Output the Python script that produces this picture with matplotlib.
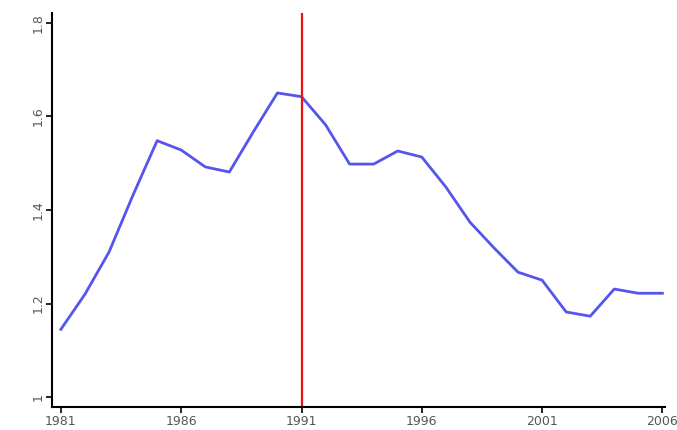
import matplotlib
matplotlib.use('Agg')
import matplotlib.pyplot as plt

years = list(range(1981, 2007))
values = [1.145, 1.220, 1.310, 1.432, 1.548, 1.528, 1.492, 1.481, 1.567, 1.650,
          1.642, 1.582, 1.498, 1.498, 1.526, 1.513, 1.449, 1.374, 1.319, 1.267,
          1.250, 1.182, 1.173, 1.231, 1.222, 1.222]
x_ticks = [1981, 1986, 1991, 1996, 2001, 2006]
y_ticks = [1.0, 1.2, 1.4, 1.6, 1.8]
y_labels = ['1', '1.2', '1.4', '1.6', '1.8']
break_year = 1991

fig = plt.figure(figsize=(6.77, 4.30), dpi=100)
ax = fig.add_axes([0.0768, 0.0535, 0.9052, 0.9165])

ax.plot(years, values, color='#5555ee', linewidth=2)
ax.axvline(break_year, color='#ee1111', linewidth=1.6)

ax.set_xlim(1980.63, 2006.1)
ax.set_ylim(0.979, 1.821)
ax.set_xticks(x_ticks)
ax.set_xticklabels([str(y) for y in x_ticks], fontsize=9, color='#555555')
ax.set_yticks(y_ticks)
ax.set_yticklabels(y_labels, fontsize=9, color='#555555', rotation=90, va='center')

for side in ['top', 'right']:
    ax.spines[side].set_visible(False)
ax.spines['left'].set_linewidth(1.5)
ax.spines['bottom'].set_linewidth(1.5)
ax.tick_params(direction='out', length=4, width=1.2, pad=1.5)

plt.savefig('out.png', dpi=100)
